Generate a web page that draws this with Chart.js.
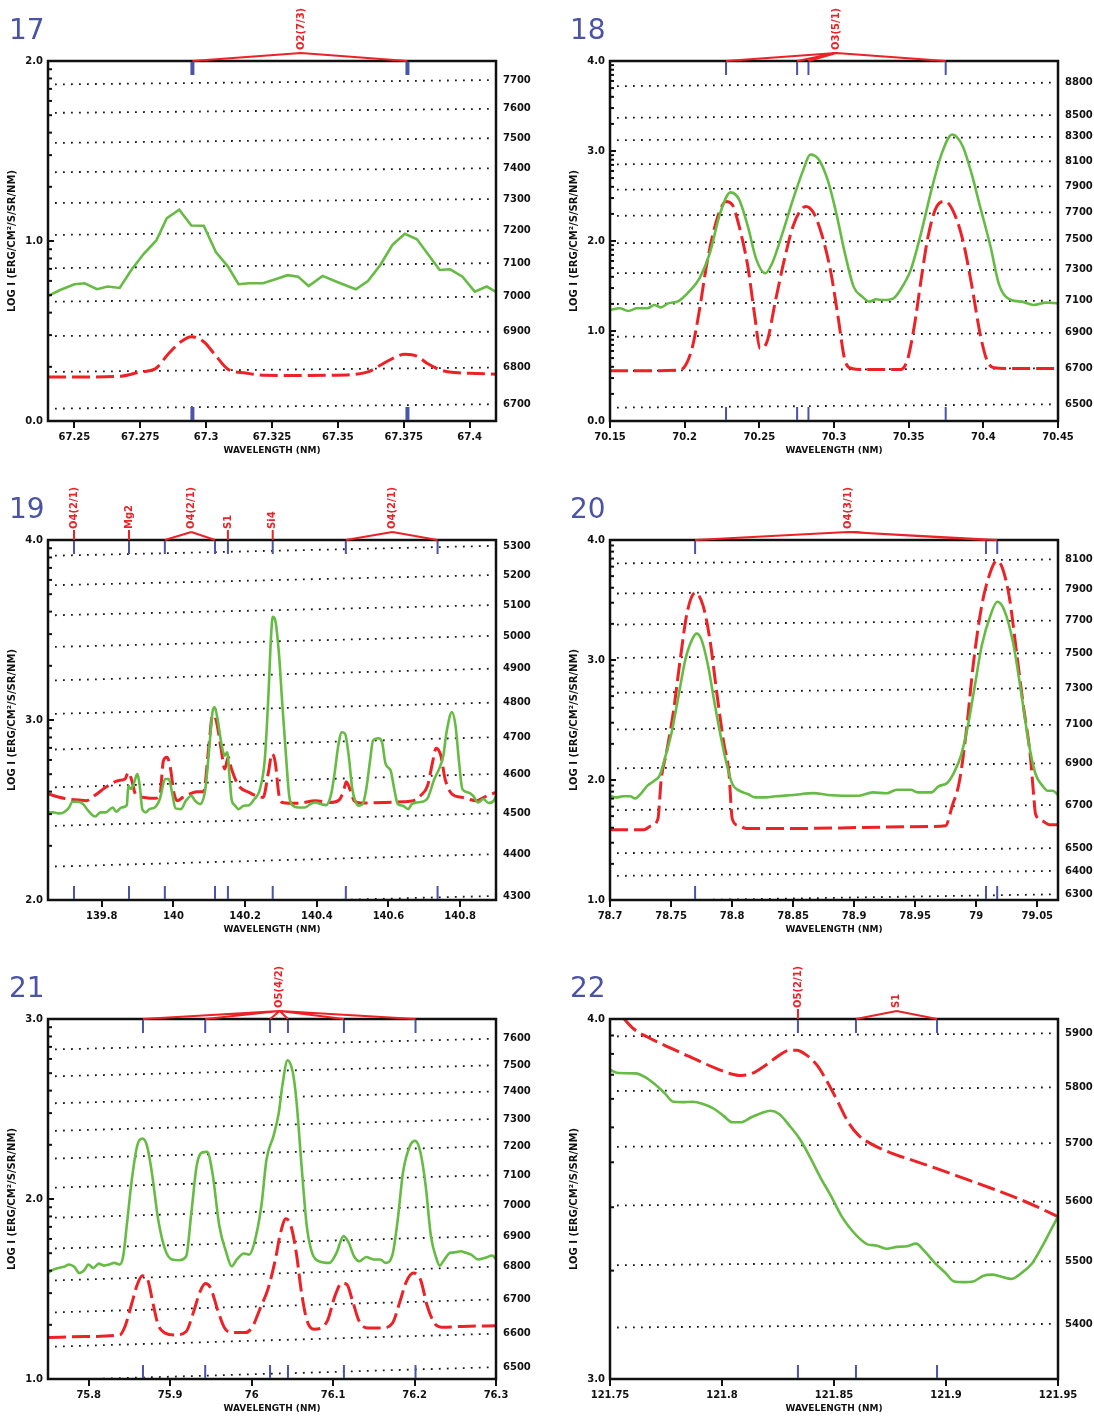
<!DOCTYPE html>
<html lang="en">
<head>
<meta charset="UTF-8">
<title>Spectra 17-22</title>
<script src="https://cdn.jsdelivr.net/npm/chart.js"></script>
<style>
  body { margin: 0; background: #fff; width: 1094px; height: 1419px; position: relative; overflow: hidden; }
  .panel { position: absolute; width: 547px; height: 479px; }
  .num { position: absolute; font-family: 'DejaVu Sans', sans-serif; font-size: 28px; line-height: 28px; color: #4b53a4; }
</style>
</head>
<body>
<script>
// ---- panel 17 ----
const p17XTicks = ['67.25', '67.275', '67.3', '67.325', '67.35', '67.375', '67.4'];
const p17YTicks = ['0.0', '1.0', '2.0'];
const p17Green = [[67.2400,0.695],[67.2446,0.728],[67.2500,0.760],[67.2539,0.765],[67.2586,0.732],[67.2626,0.747],[67.2672,0.739],[67.2718,0.843],[67.2765,0.932],[67.2811,1.003],[67.2851,1.127],[67.2898,1.174],[67.2944,1.086],[67.2991,1.085],[67.3037,0.938],[67.3083,0.858],[67.3123,0.760],[67.3163,0.765],[67.3216,0.765],[67.3263,0.787],[67.3309,0.810],[67.3349,0.802],[67.3389,0.750],[67.3442,0.806],[67.3495,0.774],[67.3568,0.732],[67.3614,0.778],[67.3661,0.867],[67.3707,0.979],[67.3754,1.040],[67.3800,1.010],[67.3847,0.917],[67.3886,0.839],[67.3926,0.843],[67.3973,0.802],[67.4019,0.719],[67.4065,0.747],[67.4100,0.717]];
const p17Red = [[67.2400,0.245],[67.2553,0.245],[67.2679,0.249],[67.2752,0.273],[67.2805,0.288],[67.2858,0.375],[67.2904,0.440],[67.2944,0.468],[67.2991,0.440],[67.3030,0.375],[67.3083,0.288],[67.3150,0.267],[67.3216,0.254],[67.3349,0.253],[67.3482,0.254],[67.3614,0.273],[67.3661,0.310],[67.3707,0.347],[67.3754,0.371],[67.3800,0.360],[67.3840,0.319],[67.3893,0.282],[67.3946,0.269],[67.4026,0.264],[67.4100,0.260]];
const p17Dots = [[0.069,0.093],[0.273,0.297],[0.472,0.496],[0.663,0.691],[0.849,0.877],[1.034,1.059],[1.211,1.233],[1.382,1.404],[1.545,1.571],[1.712,1.734],[1.870,1.894]];
const p17Temps = ['6700','6800','6900','7000','7100','7200','7300','7400','7500','7600','7700'];
const p17Marks = [67.2948, 67.3764];
const p17Ids = [{ text: 'O2(7/3)', at: 67.336, marks: [0, 1] }];

// ---- panel 18 ----
const p18XTicks = ['70.15', '70.2', '70.25', '70.3', '70.35', '70.4', '70.45'];
const p18YTicks = ['0.0', '1.0', '2.0', '3.0', '4.0'];
const p18Green = [[70.150,1.233],[70.1565,1.252],[70.1623,1.222],[70.1681,1.252],[70.1751,1.252],[70.1797,1.289],[70.1839,1.263],[70.1890,1.307],[70.1959,1.333],[70.2029,1.437],[70.2099,1.586],[70.2168,1.864],[70.2238,2.310],[70.2307,2.540],[70.2365,2.459],[70.2423,2.162],[70.2481,1.790],[70.2539,1.642],[70.2586,1.753],[70.2655,2.087],[70.2725,2.459],[70.2795,2.793],[70.2841,2.960],[70.2899,2.904],[70.2957,2.681],[70.3015,2.310],[70.3073,1.864],[70.3131,1.493],[70.3189,1.382],[70.3236,1.326],[70.3282,1.352],[70.3328,1.344],[70.3398,1.363],[70.3444,1.456],[70.3514,1.679],[70.3583,2.087],[70.3653,2.570],[70.3723,2.979],[70.3792,3.183],[70.3862,3.053],[70.3920,2.756],[70.3978,2.384],[70.4048,1.939],[70.4106,1.512],[70.4187,1.344],[70.4257,1.326],[70.4338,1.289],[70.4419,1.315],[70.4500,1.307]];
const p18Red = [[70.150,0.557],[70.1959,0.564],[70.2006,0.620],[70.2052,0.825],[70.2099,1.233],[70.2145,1.716],[70.2191,2.087],[70.2238,2.347],[70.2277,2.440],[70.2319,2.403],[70.2365,2.162],[70.2423,1.716],[70.2470,1.159],[70.2505,0.806],[70.2551,0.880],[70.2609,1.344],[70.2667,1.790],[70.2725,2.162],[70.2771,2.329],[70.2811,2.384],[70.2864,2.310],[70.2922,2.050],[70.2980,1.642],[70.3027,1.159],[70.3073,0.676],[70.3119,0.583],[70.3189,0.572],[70.3444,0.572],[70.3491,0.676],[70.3537,1.047],[70.3583,1.567],[70.3630,2.050],[70.3688,2.384],[70.3746,2.440],[70.3804,2.310],[70.3862,2.013],[70.3920,1.530],[70.3978,0.973],[70.4024,0.676],[70.4071,0.591],[70.4164,0.583],[70.4500,0.583]];
const p18Dots = [[0.149,0.186],[0.557,0.587],[0.936,0.980],[1.300,1.337],[1.642,1.686],[1.976,2.013],[2.280,2.318],[2.570,2.607],[2.852,2.886],[3.120,3.157],[3.369,3.398],[3.721,3.759]];
const p18Temps = ['6500','6700','6900','7100','7300','7500','7700','7900','8100','8300','8500','8800'];
const p18Marks = [70.2277, 70.2753, 70.2829, 70.3748];
const p18Ids = [{ text: 'O3(5/1)', at: 70.3015, marks: [0, 1, 2, 3] }];

// ---- panel 19 ----
const p19XTicks = ['139.8', '140', '140.2', '140.4', '140.6', '140.8'];
const p19YTicks = ['2.0', '3.0', '4.0'];
const p19Green = [[139.650,2.487],[139.665,2.487],[139.679,2.481],[139.694,2.487],[139.709,2.514],[139.718,2.546],[139.733,2.546],[139.748,2.533],[139.762,2.496],[139.782,2.464],[139.796,2.487],[139.811,2.487],[139.831,2.514],[139.840,2.490],[139.855,2.514],[139.870,2.527],[139.874,2.635],[139.881,2.617],[139.889,2.644],[139.899,2.700],[139.907,2.617],[139.913,2.505],[139.923,2.487],[139.933,2.505],[139.948,2.514],[139.962,2.561],[139.977,2.672],[139.987,2.672],[139.996,2.598],[140.006,2.509],[140.021,2.505],[140.035,2.552],[140.050,2.579],[140.060,2.552],[140.074,2.533],[140.089,2.617],[140.099,2.821],[140.109,3.044],[140.115,3.071],[140.123,3.007],[140.133,2.877],[140.143,2.802],[140.150,2.821],[140.157,2.672],[140.162,2.561],[140.172,2.524],[140.182,2.505],[140.196,2.524],[140.211,2.527],[140.226,2.561],[140.240,2.607],[140.255,2.784],[140.265,3.137],[140.272,3.452],[140.277,3.573],[140.284,3.554],[140.294,3.378],[140.304,3.081],[140.314,2.802],[140.323,2.579],[140.333,2.524],[140.348,2.514],[140.367,2.514],[140.382,2.533],[140.396,2.542],[140.411,2.533],[140.426,2.527],[140.440,2.588],[140.450,2.709],[140.460,2.858],[140.470,2.932],[140.479,2.923],[140.489,2.802],[140.499,2.617],[140.509,2.542],[140.518,2.524],[140.528,2.533],[140.538,2.617],[140.548,2.765],[140.557,2.886],[140.572,2.899],[140.582,2.877],[140.592,2.756],[140.606,2.719],[140.616,2.617],[140.626,2.533],[140.640,2.524],[140.655,2.505],[140.665,2.533],[140.679,2.542],[140.694,2.546],[140.709,2.565],[140.728,2.672],[140.743,2.737],[140.753,2.802],[140.762,2.932],[140.777,3.044],[140.787,2.969],[140.797,2.765],[140.806,2.617],[140.821,2.598],[140.836,2.579],[140.850,2.542],[140.865,2.561],[140.879,2.539],[140.894,2.552],[140.900,2.579]];
const p19Red = [[139.650,2.589],[139.694,2.565],[139.723,2.557],[139.757,2.552],[139.782,2.583],[139.811,2.626],[139.845,2.663],[139.865,2.672],[139.874,2.709],[139.884,2.663],[139.894,2.589],[139.918,2.570],[139.948,2.565],[139.962,2.579],[139.972,2.774],[139.982,2.793],[139.992,2.728],[140.001,2.598],[140.011,2.552],[140.026,2.570],[140.045,2.589],[140.065,2.602],[140.084,2.602],[140.099,2.858],[140.109,3.025],[140.118,3.007],[140.133,2.839],[140.143,2.728],[140.153,2.793],[140.162,2.728],[140.182,2.635],[140.211,2.598],[140.235,2.576],[140.250,2.570],[140.265,2.709],[140.275,2.812],[140.284,2.765],[140.294,2.589],[140.304,2.542],[140.348,2.537],[140.396,2.552],[140.436,2.542],[140.460,2.552],[140.475,2.607],[140.482,2.657],[140.494,2.607],[140.504,2.552],[140.523,2.539],[140.592,2.542],[140.640,2.546],[140.670,2.552],[140.689,2.579],[140.709,2.635],[140.723,2.765],[140.733,2.843],[140.746,2.802],[140.758,2.672],[140.777,2.589],[140.806,2.570],[140.845,2.552],[140.875,2.579],[140.900,2.598]];
const p19Dots = [[1.960,2.022],[2.186,2.254],[2.412,2.481],[2.626,2.700],[2.836,2.904],[3.034,3.096],[3.220,3.285],[3.406,3.467],[3.582,3.638],[3.749,3.805],[3.913,3.967]];
const p19Temps = ['4300','4400','4500','4600','4700','4800','4900','5000','5100','5200','5300'];
const p19Marks = [139.7225, 139.876, 139.976, 140.116, 140.152, 140.277, 140.481, 140.737];
const p19Ids = [
  { text: 'O4(2/1)', at: 139.7225, marks: [0] },
  { text: 'Mg2', at: 139.876, marks: [1] },
  { text: 'O4(2/1)', at: 140.05, marks: [2, 3] },
  { text: 'S1', at: 140.152, marks: [4] },
  { text: 'Si4', at: 140.277, marks: [5] },
  { text: 'O4(2/1)', at: 140.611, marks: [6, 7] }
];

// ---- panel 20 ----
const p20XTicks = ['78.7', '78.75', '78.8', '78.85', '78.9', '78.95', '79', '79.05'];
const p20YTicks = ['1.0', '2.0', '3.0', '4.0'];
const p20Green = [[78.700,1.869],[78.7051,1.855],[78.7108,1.864],[78.7165,1.864],[78.7207,1.847],[78.7250,1.883],[78.7307,1.953],[78.7363,1.994],[78.7406,2.036],[78.7448,2.175],[78.7505,2.398],[78.7562,2.705],[78.7619,3.011],[78.7676,3.178],[78.7710,3.220],[78.7746,3.178],[78.7803,2.955],[78.7860,2.621],[78.7917,2.315],[78.7959,2.120],[78.8002,1.967],[78.8059,1.911],[78.8130,1.883],[78.8186,1.855],[78.8272,1.855],[78.8357,1.864],[78.8499,1.875],[78.8669,1.891],[78.8783,1.875],[78.8953,1.869],[78.9038,1.869],[78.9152,1.897],[78.9265,1.889],[78.9350,1.919],[78.9464,1.919],[78.9520,1.897],[78.9634,1.897],[78.9691,1.947],[78.9762,1.975],[78.9819,2.064],[78.9875,2.203],[78.9932,2.454],[78.9989,2.788],[79.0046,3.123],[79.0117,3.373],[79.0173,3.485],[79.0230,3.415],[79.0301,3.150],[79.0372,2.705],[79.0429,2.315],[79.0486,2.050],[79.0542,1.953],[79.0585,1.911],[79.0627,1.911],[79.0670,1.875]];
const p20Red = [[78.700,1.585],[78.7278,1.585],[78.7335,1.618],[78.7392,1.674],[78.7420,2.008],[78.7463,2.231],[78.7519,2.565],[78.7576,3.011],[78.7633,3.401],[78.7698,3.560],[78.7761,3.457],[78.7817,3.178],[78.7874,2.733],[78.7931,2.315],[78.7974,2.064],[78.8002,1.674],[78.8059,1.618],[78.8115,1.596],[78.8499,1.596],[78.9066,1.604],[78.9634,1.613],[78.9748,1.618],[78.9804,1.786],[78.9861,1.981],[78.9918,2.398],[78.9975,2.955],[79.0046,3.457],[79.0117,3.735],[79.0168,3.827],[79.0216,3.763],[79.0273,3.513],[79.0330,3.067],[79.0386,2.621],[79.0443,2.203],[79.0471,1.869],[79.0486,1.716],[79.0542,1.660],[79.0599,1.627],[79.0670,1.627]];
const p20Dots = [[0.990,1.047],[1.201,1.242],[1.390,1.432],[1.749,1.791],[2.097,2.139],[2.421,2.460],[2.727,2.766],[3.017,3.058],[3.295,3.329],[3.554,3.591],[3.805,3.838]];
const p20Temps = ['6300','6400','6500','6700','6900','7100','7300','7500','7700','7900','8100'];
const p20Marks = [78.7697, 79.008, 79.0172];
const p20Ids = [{ text: 'O4(3/1)', at: 78.895, marks: [0, 1, 2] }];

// ---- panel 21 ----
const p21XTicks = ['75.8', '75.9', '76', '76.1', '76.2', '76.3'];
const p21YTicks = ['1.0', '2.0', '3.0'];
const p21Green = [[75.7500,1.589],[75.7564,1.608],[75.7629,1.617],[75.7693,1.623],[75.7758,1.636],[75.7822,1.623],[75.7886,1.589],[75.7951,1.608],[75.7994,1.636],[75.8058,1.617],[75.8123,1.641],[75.8187,1.630],[75.8251,1.636],[75.8316,1.645],[75.8380,1.636],[75.8423,1.682],[75.8466,1.849],[75.8530,2.110],[75.8595,2.296],[75.8659,2.336],[75.8715,2.296],[75.8775,2.147],[75.8852,1.887],[75.8938,1.719],[75.9024,1.664],[75.9110,1.660],[75.9196,1.682],[75.9260,1.924],[75.9325,2.184],[75.9389,2.258],[75.9454,2.262],[75.9518,2.147],[75.9604,1.849],[75.9690,1.701],[75.9754,1.626],[75.9818,1.664],[75.9904,1.697],[75.9969,1.691],[76.0033,1.757],[76.0119,1.961],[76.0183,2.221],[76.0269,2.351],[76.0334,2.481],[76.0377,2.630],[76.0441,2.770],[76.0505,2.704],[76.0548,2.556],[76.0613,2.184],[76.0677,1.849],[76.0742,1.701],[76.0827,1.654],[76.0956,1.645],[76.1042,1.701],[76.1128,1.794],[76.1192,1.757],[76.1257,1.682],[76.1321,1.654],[76.1407,1.678],[76.1493,1.664],[76.1579,1.664],[76.1643,1.645],[76.1729,1.691],[76.1794,1.887],[76.1858,2.147],[76.1944,2.296],[76.2008,2.323],[76.2073,2.258],[76.2137,2.072],[76.2201,1.794],[76.2266,1.673],[76.2309,1.630],[76.2352,1.654],[76.2438,1.701],[76.2502,1.704],[76.2566,1.710],[76.2631,1.701],[76.2695,1.691],[76.2781,1.664],[76.2867,1.673],[76.2953,1.686],[76.3000,1.667]];
const p21Red = [[75.7500,1.230],[75.7951,1.236],[75.8380,1.245],[75.8445,1.292],[75.8530,1.422],[75.8595,1.524],[75.8659,1.574],[75.8724,1.552],[75.8788,1.422],[75.8852,1.301],[75.8938,1.255],[75.9067,1.245],[75.9196,1.264],[75.9282,1.366],[75.9368,1.487],[75.9432,1.530],[75.9496,1.506],[75.9582,1.385],[75.9668,1.283],[75.9754,1.258],[75.9926,1.258],[76.0012,1.292],[76.0098,1.385],[76.0205,1.506],[76.0291,1.664],[76.0355,1.812],[76.0420,1.890],[76.0484,1.849],[76.0548,1.701],[76.0613,1.478],[76.0677,1.329],[76.0763,1.277],[76.0849,1.283],[76.0935,1.329],[76.1021,1.459],[76.1106,1.533],[76.1171,1.524],[76.1235,1.440],[76.1321,1.320],[76.1428,1.283],[76.1600,1.283],[76.1729,1.310],[76.1815,1.422],[76.1901,1.543],[76.1987,1.589],[76.2073,1.552],[76.2158,1.403],[76.2244,1.310],[76.2330,1.288],[76.2588,1.292],[76.3000,1.296]];
const p21Dots = [[0.994,1.065],[1.180,1.251],[1.370,1.441],[1.548,1.623],[1.725,1.794],[1.896,1.965],[2.063,2.132],[2.225,2.292],[2.379,2.444],[2.532,2.597],[2.682,2.742],[2.831,2.890]];
const p21Temps = ['6500','6600','6700','6800','6900','7000','7100','7200','7300','7400','7500','7600'];
const p21Marks = [75.8666, 75.9430, 76.0226, 76.0446, 76.1133, 76.2012];
const p21Ids = [{ text: 'O5(4/2)', at: 76.0345, marks: [0, 1, 2, 3, 4, 5] }];

// ---- panel 22 ----
const p22XTicks = ['121.75', '121.8', '121.85', '121.9', '121.95'];
const p22YTicks = ['3.0', '4.0'];
const p22Green = [[121.7500,3.859],[121.7536,3.850],[121.7613,3.849],[121.7659,3.838],[121.7698,3.820],[121.7744,3.794],[121.7783,3.770],[121.7822,3.769],[121.7868,3.770],[121.7915,3.764],[121.7961,3.752],[121.8007,3.731],[121.8046,3.713],[121.8085,3.713],[121.8131,3.727],[121.8177,3.739],[121.8216,3.745],[121.8255,3.736],[121.8301,3.704],[121.8348,3.666],[121.8394,3.615],[121.8440,3.559],[121.8487,3.508],[121.8533,3.453],[121.8564,3.425],[121.8603,3.397],[121.8649,3.374],[121.8688,3.371],[121.8734,3.362],[121.8781,3.367],[121.8827,3.369],[121.8866,3.376],[121.8904,3.355],[121.8951,3.322],[121.8997,3.295],[121.9036,3.271],[121.9075,3.269],[121.9121,3.271],[121.9167,3.287],[121.9206,3.290],[121.9245,3.285],[121.9291,3.278],[121.9338,3.295],[121.9384,3.321],[121.9430,3.369],[121.9469,3.415],[121.9500,3.451]];
const p22Red = [[121.7559,4.003],[121.7605,3.973],[121.7667,3.950],[121.7744,3.927],[121.7822,3.905],[121.7899,3.883],[121.7976,3.862],[121.8038,3.848],[121.8085,3.843],[121.8131,3.848],[121.8193,3.871],[121.8255,3.899],[121.8301,3.913],[121.8332,3.913],[121.8379,3.899],[121.8425,3.871],[121.8471,3.824],[121.8518,3.769],[121.8564,3.713],[121.8611,3.676],[121.8672,3.651],[121.8750,3.629],[121.8858,3.606],[121.8966,3.583],[121.9090,3.555],[121.9214,3.527],[121.9322,3.501],[121.9415,3.476],[121.9500,3.451]];
const p22Dots = [[3.143,3.153],[3.316,3.327],[3.482,3.493],[3.645,3.655],[3.800,3.810],[3.952,3.960]];
const p22Temps = ['5400','5500','5600','5700','5800','5900'];
const p22Marks = [121.8339, 121.8598, 121.8960];
const p22Ids = [
  { text: 'O5(2/1)', at: 121.8339, marks: [0] },
  { text: 'S1', at: 121.878, marks: [1, 2] }
];

const GREEN = '#66bb44';
const RED = '#ec2227';
const BLUE = '#4a55a8';
const FONT = "'DejaVu Sans', sans-serif";

const panels = [
  { num: '17', col: 0, row: 0, xMin: 67.24, xMax: 67.41, yMin: 0, yMax: 2, xTicks: p17XTicks, yTicks: p17YTicks, green: p17Green, red: p17Red, dots: p17Dots, temps: p17Temps, marks: p17Marks, ids: p17Ids, markWidth: 4, greenTension: 0 },
  { num: '18', col: 1, row: 0, xMin: 70.15, xMax: 70.45, yMin: 0, yMax: 4, xTicks: p18XTicks, yTicks: p18YTicks, green: p18Green, red: p18Red, dots: p18Dots, temps: p18Temps, marks: p18Marks, ids: p18Ids, markWidth: 2 },
  { num: '19', col: 0, row: 1, xMin: 139.65, xMax: 140.9, yMin: 2, yMax: 4, xTicks: p19XTicks, yTicks: p19YTicks, green: p19Green, red: p19Red, dots: p19Dots, temps: p19Temps, marks: p19Marks, ids: p19Ids, markWidth: 2 },
  { num: '20', col: 1, row: 1, xMin: 78.7, xMax: 79.067, yMin: 1, yMax: 4, xTicks: p20XTicks, yTicks: p20YTicks, green: p20Green, red: p20Red, dots: p20Dots, temps: p20Temps, marks: p20Marks, ids: p20Ids, markWidth: 2 },
  { num: '21', col: 0, row: 2, xMin: 75.75, xMax: 76.3, yMin: 1, yMax: 3, xTicks: p21XTicks, yTicks: p21YTicks, green: p21Green, red: p21Red, dots: p21Dots, temps: p21Temps, marks: p21Marks, ids: p21Ids, markWidth: 2 },
  { num: '22', col: 1, row: 2, xMin: 121.75, xMax: 121.95, yMin: 3, yMax: 4, xTicks: p22XTicks, yTicks: p22YTicks, green: p22Green, red: p22Red, dots: p22Dots, temps: p22Temps, marks: p22Marks, ids: p22Ids, markWidth: 2 }
];

const panelOf = new Map();

// dotted temperature lines, frame, inward log ticks, line marks and ids
const decor = {
  id: 'decor',
  beforeDatasetsDraw(chart) {
    const p = panelOf.get(chart.canvas.id);
    const { ctx, chartArea: a, scales: { y } } = chart;
    ctx.save();
    ctx.beginPath();
    ctx.rect(a.left, a.top, a.right - a.left, a.bottom - a.top);
    ctx.clip();
    ctx.setLineDash([1.8, 6.2]);
    ctx.strokeStyle = '#1a1a1a';
    ctx.lineWidth = 1.8;
    p.dots.forEach(([yl, yr]) => {
      ctx.beginPath();
      ctx.moveTo(a.left + 7, y.getPixelForValue(yl));
      ctx.lineTo(a.right - 6, y.getPixelForValue(yr));
      ctx.stroke();
    });
    ctx.restore();
  },
  afterDatasetsDraw(chart) {
    const p = panelOf.get(chart.canvas.id);
    const { ctx, chartArea: a, scales: { x, y } } = chart;
    ctx.save();
    // frame
    ctx.strokeStyle = '#111';
    ctx.lineWidth = 2.5;
    ctx.strokeRect(a.left, a.top, a.right - a.left, a.bottom - a.top);
    // inward log ticks on the left axis
    ctx.lineWidth = 2;
    for (let n = Math.floor(p.yMin); n <= p.yMax; n++) {
      for (let k = 1; k <= 9; k++) {
        const v = n + Math.log10(k);
        if (v > p.yMax + 1e-9) break;
        const py = y.getPixelForValue(v);
        ctx.beginPath();
        ctx.moveTo(a.left, py);
        ctx.lineTo(a.left + (k === 1 ? 6 : 4), py);
        ctx.stroke();
      }
    }
    // line position marks
    ctx.strokeStyle = BLUE;
    ctx.lineWidth = p.markWidth;
    p.marks.forEach(m => {
      const px = x.getPixelForValue(m);
      ctx.beginPath();
      ctx.moveTo(px, a.top + 1); ctx.lineTo(px, a.top + 14);
      ctx.moveTo(px, a.bottom - 14); ctx.lineTo(px, a.bottom - 1);
      ctx.stroke();
    });
    // line identifications
    ctx.strokeStyle = RED;
    ctx.fillStyle = RED;
    ctx.lineWidth = 2;
    ctx.font = "bold 10px " + FONT;
    p.ids.forEach(g => {
      const lx = x.getPixelForValue(g.at);
      ctx.beginPath();
      if (g.marks.length === 1) {
        ctx.moveTo(lx, a.top - 10); ctx.lineTo(lx, a.top);
      } else {
        g.marks.forEach(i => {
          ctx.moveTo(lx, a.top - 8);
          ctx.lineTo(x.getPixelForValue(p.marks[i]), a.top);
        });
      }
      ctx.stroke();
      ctx.save();
      ctx.translate(lx, a.top - 11);
      ctx.rotate(-Math.PI / 2);
      ctx.textAlign = 'left';
      ctx.textBaseline = 'middle';
      ctx.fillText(g.text, 0, 0);
      ctx.restore();
    });
    ctx.restore();
  }
};

panels.forEach(p => {
  const wrap = document.createElement('div');
  wrap.className = 'panel';
  wrap.style.left = (p.col * 547) + 'px';
  wrap.style.top = (p.row * 479) + 'px';
  const canvas = document.createElement('canvas');
  canvas.id = 'c' + p.num;
  canvas.width = 547;
  canvas.height = 479;
  wrap.appendChild(canvas);
  document.body.appendChild(wrap);

  const num = document.createElement('div');
  num.className = 'num';
  num.textContent = p.num;
  num.style.left = (p.col ? 570 : 9) + 'px';
  num.style.top = (p.row * 479 + 16) + 'px';
  document.body.appendChild(num);

  panelOf.set(canvas.id, p);
  const leftW = p.col ? 63 : 48;
  const rightW = 547 - leftW - 448;

  new Chart(canvas.getContext('2d'), {
    type: 'line',
    data: {
      datasets: [
        {
          data: p.green.map(([vx, vy]) => ({ x: vx, y: vy })),
          borderColor: GREEN, borderWidth: 2.6, pointRadius: 0,
          tension: p.greenTension === 0 ? 0 : 0.3,
          cubicInterpolationMode: p.greenTension === 0 ? 'default' : 'monotone'
        },
        {
          data: p.red.map(([vx, vy]) => ({ x: vx, y: vy })),
          borderColor: RED, borderWidth: 3, pointRadius: 0,
          borderDash: [18, 6], tension: 0.3, cubicInterpolationMode: 'monotone'
        }
      ]
    },
    options: {
      responsive: false,
      animation: false,
      events: [],
      layout: { padding: { top: 61, bottom: 18, left: 0, right: 0 } },
      plugins: { legend: { display: false }, tooltip: { enabled: false } },
      scales: {
        x: {
          type: 'linear', min: p.xMin, max: p.xMax,
          afterBuildTicks: s => { s.ticks = p.xTicks.map(t => ({ value: parseFloat(t) })); },
          afterFit: s => { s.height = 40; },
          ticks: { autoSkip: false, maxRotation: 0, padding: 3, color: '#111', font: { family: FONT, size: 10, weight: 'bold' }, callback: (v, i) => p.xTicks[i] },
          grid: { drawOnChartArea: false, drawTicks: true, tickLength: 7, color: '#111', lineWidth: 2 },
          border: { display: false },
          title: { display: true, text: 'WAVELENGTH (NM)', color: '#111', font: { family: FONT, size: 9, weight: 'bold' }, padding: { top: 0, bottom: 5 } }
        },
        y: {
          type: 'linear', position: 'left', min: p.yMin, max: p.yMax,
          afterBuildTicks: s => { s.ticks = p.yTicks.map(t => ({ value: parseFloat(t) })); },
          afterFit: s => { s.width = leftW; },
          ticks: { autoSkip: false, padding: 5, color: '#111', font: { family: FONT, size: 10, weight: 'bold' }, callback: (v, i) => p.yTicks[i] },
          grid: { display: false, drawTicks: false },
          border: { display: false },
          title: { display: true, text: 'LOG I (ERG/CM²/S/SR/NM)', color: '#111', font: { family: FONT, size: 10, weight: 'bold' }, padding: { top: p.col ? 21 : 6, bottom: 0 } }
        },
        y2: {
          type: 'linear', position: 'right', min: p.yMin, max: p.yMax,
          afterBuildTicks: s => { s.ticks = p.dots.map(d => ({ value: d[1] })); },
          afterFit: s => { s.width = rightW; },
          ticks: { autoSkip: false, padding: 7, color: '#111', font: { family: FONT, size: 10, weight: 'bold' }, callback: (v, i) => p.temps[i] },
          grid: { display: false, drawTicks: false },
          border: { display: false }
        }
      }
    },
    plugins: [decor]
  });
});
</script>
</body>
</html>
